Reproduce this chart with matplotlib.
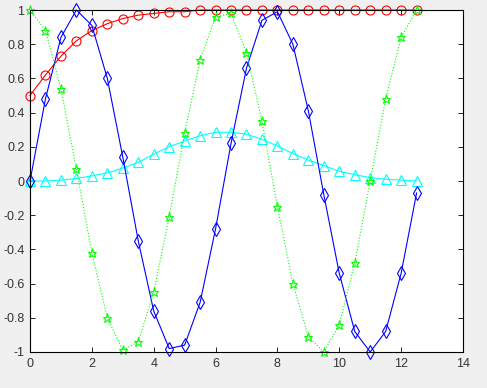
import numpy as np
import matplotlib
matplotlib.use("Agg")
from matplotlib import pyplot as plt

# sample positions (step 0.5)
x = np.arange(0, 13, 0.5)

sig_vals = [0.5, 0.62, 0.73, 0.82, 0.88, 0.92, 0.95, 0.97, 0.98, 0.99, 0.99, 1.0, 1.0,
            1.0, 1.0, 1.0, 1.0, 1.0, 1.0, 1.0, 1.0, 1.0, 1.0, 1.0, 1.0, 1.0]
bump_vals = [0.0, 0.0, 0.005, 0.015, 0.03, 0.047, 0.076, 0.109, 0.157, 0.2, 0.234, 0.265, 0.285,
             0.285, 0.274, 0.244, 0.205, 0.16, 0.123, 0.09, 0.057, 0.037, 0.02, 0.01, 0.005, 0.0]
sin_vals = [0.0, 0.48, 0.84, 1.0, 0.91, 0.6, 0.14, -0.35, -0.76, -0.98, -0.96, -0.71, -0.28,
            0.22, 0.66, 0.94, 0.99, 0.8, 0.41, -0.08, -0.54, -0.88, -1.0, -0.88, -0.54, -0.07]
cos_vals = [1.0, 0.88, 0.54, 0.07, -0.42, -0.8, -0.99, -0.94, -0.65, -0.21, 0.28, 0.71, 0.96,
            0.98, 0.75, 0.35, -0.15, -0.6, -0.91, -1.0, -0.84, -0.48, 0.0, 0.48, 0.84, 1.0]

xticks = [0, 2, 4, 6, 8, 10, 12, 14]
yticks = [-1, -0.8, -0.6, -0.4, -0.2, 0, 0.2, 0.4, 0.6, 0.8, 1]

plt.rcParams["font.family"] = ["Liberation Sans", "DejaVu Sans"]

fig = plt.figure(figsize=(4.87, 3.88), dpi=100, facecolor="#f0f0f0")
ax = fig.add_axes([0.0616, 0.0928, 0.8891, 0.8814])

lw = 0.8
ax.plot(x, sig_vals, color=(1, 0, 0), lw=lw, marker="o", ms=6.5, mfc="none",
        mew=0.8, clip_on=False, zorder=3)
ax.plot(x, bump_vals, color=(0, 1, 1), lw=lw, marker="^", ms=6.5, mfc="none",
        mew=0.8, clip_on=False, zorder=3)
ax.plot(x, sin_vals, color=(0, 0, 1), lw=lw, marker="d", ms=7, mfc="none",
        mew=0.8, clip_on=False, zorder=3)
ax.plot(x, cos_vals, color=(0, 1, 0), lw=lw, ls=":", marker="*", ms=6.5, mfc="none",
        mew=0.8, clip_on=False, zorder=3)

ax.set_xlim(0, 14)
ax.set_ylim(-1, 1)
ax.set_xticks(xticks)
ax.set_yticks(yticks)
ax.set_xticklabels([str(t) for t in xticks])
ax.set_yticklabels([("%g" % t) for t in yticks])
ax.tick_params(direction="in", top=True, right=True, length=3.5, width=0.6,
               labelsize=9, labelcolor="#333333", pad=4)
for sp in ax.spines.values():
    sp.set_linewidth(0.8)
    sp.set_zorder(4)

fig.savefig("out.png", dpi=100, facecolor=fig.get_facecolor())
